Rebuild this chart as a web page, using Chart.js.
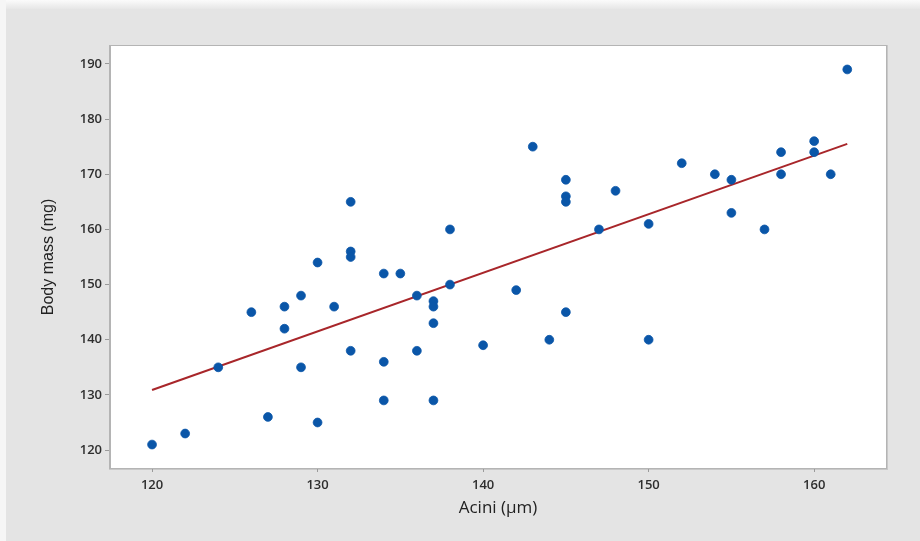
<!DOCTYPE html>
<html>
<head>
<meta charset="utf-8">
<script src="https://cdn.jsdelivr.net/npm/chart.js@4.4.0/dist/chart.umd.min.js"></script>
<style>
html,body{margin:0;padding:0;background:#e4e4e4;}
#wrap{width:920px;height:541px;position:relative;}
</style>
</head>
<body>
<div id="wrap"><canvas id="c" width="920" height="541"></canvas></div>
<script>
// Data
const aciniX = [120,122,124,126,127,128,128,129,129,130,130,131,132,132,132,132,134,134,134,135,136,136,137,137,137,137,138,138,140,142,143,144,145,145,145,145,147,148,150,150,152,154,155,155,157,158,158,160,160,161,162];
const bodyMassY = [121,123,135,145,126,146,142,148,135,154,125,146,165,156,155,138,152,136,129,152,148,138,147,146,143,129,160,150,139,149,175,140,169,166,165,145,160,167,161,140,172,170,169,163,160,174,170,176,174,170,189];
const fitX = [120,162];
const fitY = [130.9,175.5];
const xTicks = [120,130,140,150,160];
const yTicks = [120,130,140,150,160,170,180,190];

const points = aciniX.map((x,i)=>({x:x,y:bodyMassY[i]}));
const fitLine = fitX.map((x,i)=>({x:x,y:fitY[i]}));

const bgPlugin = {
  id:'bg',
  beforeDraw(chart){
    const ctx = chart.ctx;
    ctx.save();
    ctx.fillStyle = '#f6f6f6';
    ctx.fillRect(0,0,920,541);
    const g = ctx.createLinearGradient(0,0,0,10);
    g.addColorStop(0,'#fbfbfb');
    g.addColorStop(1,'#e4e4e4');
    ctx.fillStyle = g;
    ctx.fillRect(6,0,914,10);
    ctx.fillStyle = '#e4e4e4';
    ctx.fillRect(6,9,914,532);
    const a = chart.chartArea;
    ctx.fillStyle = '#c8c8c8';
    ctx.fillRect(a.left-1,a.top-1,a.right-a.left+3,a.bottom-a.top+3);
    ctx.fillStyle = '#ffffff';
    ctx.fillRect(a.left,a.top,a.right-a.left,a.bottom-a.top);
    ctx.restore();
  },
  afterDatasetsDraw(chart){
    const ctx = chart.ctx, a = chart.chartArea;
    ctx.save();
    ctx.strokeStyle = '#b4b4b4';
    ctx.lineWidth = 1;
    ctx.strokeRect(a.left-0.5,a.top-0.5,a.right-a.left+1,a.bottom-a.top+1);
    ctx.restore();
  }
};

const tickFont = {family:"'Open Sans', 'DejaVu Sans', sans-serif", size:13, weight:'600'};

new Chart(document.getElementById('c'),{
  type:'scatter',
  data:{
    datasets:[
      {
        label:'Regression',
        type:'line',
        data:fitLine,
        borderColor:'#a8262a',
        borderWidth:2,
        pointRadius:0,
        fill:false,
        order:2
      },
      {
        label:'Body mass',
        data:points,
        backgroundColor:'#0a56a8',
        borderColor:'#0a56a8',
        pointRadius:4.4,
        pointHoverRadius:4.4,
        borderWidth:0.8,
        order:1
      }
    ]
  },
  options:{
    responsive:false,
    animation:false,
    devicePixelRatio:1,
    plugins:{legend:{display:false},tooltip:{enabled:false}},
    layout:{padding:{left:0,top:46,right:34,bottom:0}},
    scales:{
      x:{
        type:'linear',
        min:117.46,max:164.34,
        afterBuildTicks(axis){axis.ticks = xTicks.map(v=>({value:v}));},
        afterFit(axis){axis.height = 73;},
        grid:{display:true,drawOnChartArea:false,drawTicks:true,tickLength:4,color:'#9a9a9a'},
        border:{display:true,color:'#b4b4b4'},
        ticks:{color:'#2e2e2e',font:tickFont,padding:5,maxRotation:0},
        title:{display:true,text:'Acini (µm)',color:'#222222',
          font:{family:"'Open Sans', 'DejaVu Sans', sans-serif",size:17},padding:{top:0,bottom:23}}
      },
      y:{
        type:'linear',
        min:116.75,max:193.25,
        afterBuildTicks(axis){axis.ticks = yTicks.map(v=>({value:v}));},
        afterFit(axis){axis.width = 110;},
        grid:{display:true,drawOnChartArea:false,drawTicks:true,tickLength:5,color:'#9a9a9a'},
        border:{display:true,color:'#b4b4b4'},
        ticks:{color:'#2e2e2e',font:tickFont,padding:3},
        title:{display:true,text:'Body mass (mg)',color:'#222222',
          font:{family:"'Liberation Sans Narrow', 'Arial Narrow', 'Liberation Sans', sans-serif",size:16},padding:{top:39,bottom:0}}
      }
    }
  },
  plugins:[bgPlugin]
});
</script>
</body>
</html>
